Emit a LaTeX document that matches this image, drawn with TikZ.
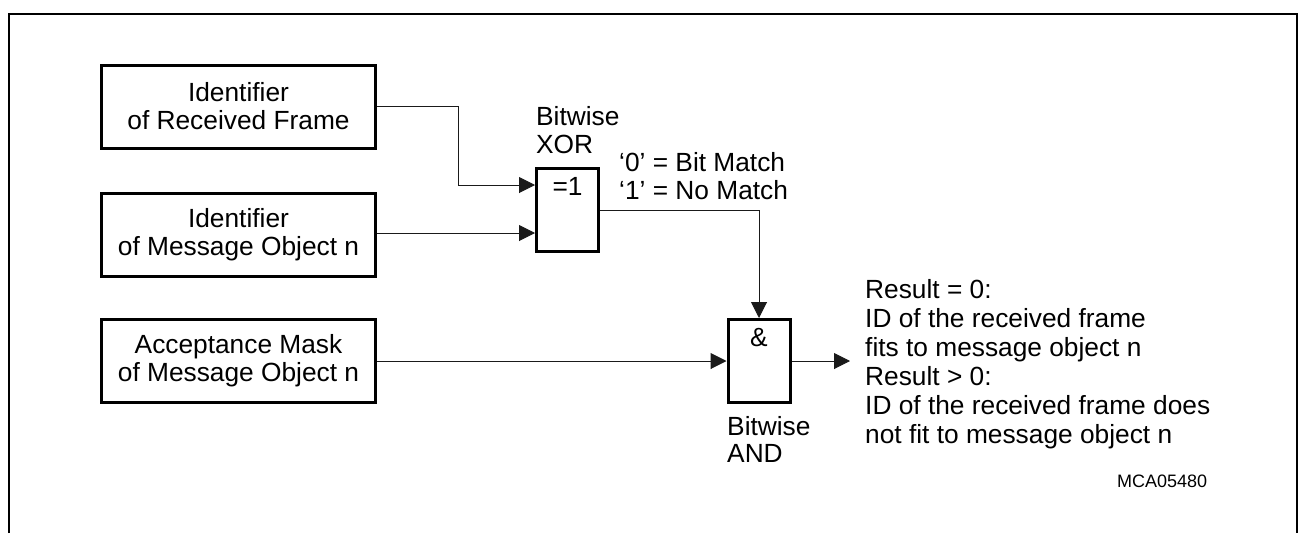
\documentclass[tikz,border=0pt]{standalone}
\usepackage{fontspec}
\setmainfont{Liberation Sans}
\usepackage{tikz}
\usepackage{xcolor}
\usetikzlibrary{arrows.meta,positioning,calc}
\definecolor{ink}{HTML}{000000}
\definecolor{wire}{HTML}{1A1A1A}
\tikzset{
  idbox/.style={draw=ink,line width=3pt,
                minimum width=274pt,minimum height=83pt,
                align=center,inner sep=0pt,
                font=\fontsize{26.3}{28}\selectfont},
  gatebox/.style={draw=ink,line width=3pt,
                  minimum width=62pt,minimum height=83pt,inner sep=0pt},
  gatesym/.style={anchor=north,inner sep=10.5pt,font=\fontsize{26.3}{28}\selectfont},
  note/.style={align=left,inner sep=0pt,anchor=base west,
               font=\fontsize{26.3}{28}\selectfont},
  tag/.style={inner sep=0pt,anchor=base west,font=\fontsize{18}{20}\selectfont},
  sigarr/.style={-{Triangle[length=16pt,width=16pt]},line width=1pt,color=wire},
  frame/.style={line width=2pt,color=ink}
}

\begin{document}
\begin{tikzpicture}[x=1pt,y=-1pt]
  \useasboundingbox (0,0) rectangle (1299,533);
  \draw[frame] (9,533) -- (9,14) -- (1297,14) -- (1297,533);

  \node[idbox] (recv) at (238.5,106.5) {Identifier\\of Received Frame};
  \node[idbox] (msgid) at (238.5,235) {Identifier\\of Message Object n};
  \node[idbox] (mask) at (238.5,361) {Acceptance Mask\\of Message Object n};

  \node[gatebox,label={[gatesym]north:=1}] (xor) at (567.5,210) {};
  \node[gatebox,label={[gatesym]north:\&}] (and) at (759,361) {};

  \coordinate (xin1) at ($(xor.west)+(0,-25)$);
  \coordinate (xin2) at ($(xor.west)+(0,23)$);
  \coordinate (res) at (850,361);

  \draw[sigarr] (recv.east) -- ++(81,0) |- (xin1);
  \draw[sigarr] (xin2 -| msgid.east) -- (xin2);
  \draw[sigarr] (xor.east) -| (and.north);
  \draw[sigarr] (mask.east) -- (and.west);
  \draw[sigarr] (and.east) -- (res);

  \node[note] (xortxt) at (536,153) {Bitwise\\XOR};
  \node[note] (matchtxt) at (619,199) {‘0’ = Bit Match\\‘1’ = No Match};
  \node[note,font=\fontsize{26.3}{27}\selectfont] (andtxt) at (727,462) {Bitwise\\AND};
  \node[note,font=\fontsize{26.3}{29}\selectfont] (restxt) at (865,443) {Result = 0:\\ID of the received frame\\fits to message object n\\Result > 0:\\ID of the received frame does\\not fit to message object n};
  \node[tag] (figid) at (1117,487) {MCA05480};
\end{tikzpicture}
\end{document}
